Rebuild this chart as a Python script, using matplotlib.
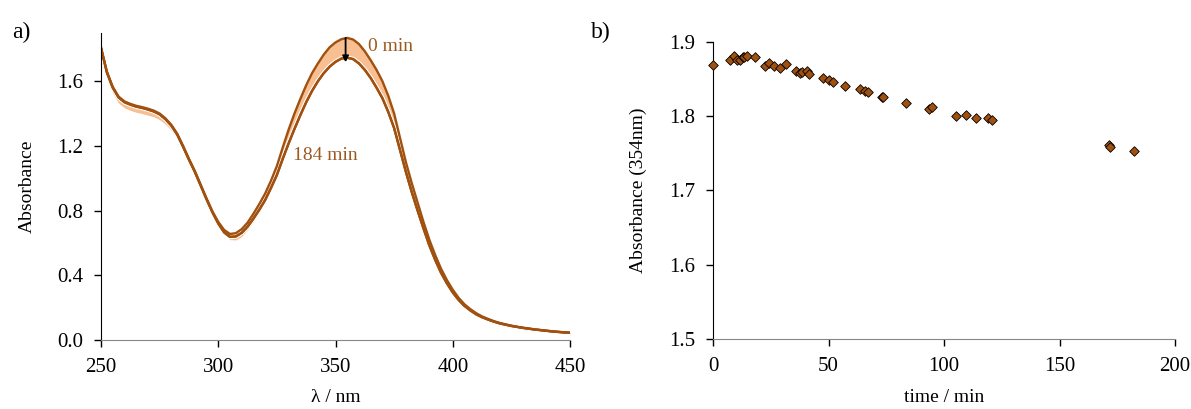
import matplotlib.pyplot as plt
import matplotlib.patheffects as pe

plt.rcParams["font.family"] = ["Liberation Serif", "DejaVu Serif"]
plt.rcParams["font.size"] = 14

# panel a: UV-vis spectra, every 2.5 nm
wavelength = [250, 252.5, 255, 257.5, 260, 262.5, 265, 267.5, 270, 272.5,
              275, 277.5, 280, 282.5, 285, 287.5, 290, 292.5, 295, 297.5,
              300, 302.5, 305, 307.5, 310, 312.5, 315, 317.5, 320, 322.5,
              325, 327.5, 330, 332.5, 335, 337.5, 340, 342.5, 345, 347.5,
              350, 352.5, 355, 357.5, 360, 362.5, 365, 367.5, 370, 372.5,
              375, 377.5, 380, 382.5, 385, 387.5, 390, 392.5, 395, 397.5,
              400, 402.5, 405, 407.5, 410, 412.5, 415, 417.5, 420, 422.5,
              425, 427.5, 430, 432.5, 435, 437.5, 440, 442.5, 445, 447.5, 450]
abs_0min = [1.81, 1.66, 1.565, 1.505, 1.475, 1.46, 1.448, 1.44, 1.43, 1.418,
            1.40, 1.37, 1.33, 1.275, 1.20, 1.12, 1.045, 0.96, 0.875, 0.795,
            0.73, 0.68, 0.655, 0.66, 0.685, 0.725, 0.78, 0.84, 0.905, 0.985,
            1.075, 1.19, 1.30, 1.40, 1.49, 1.575, 1.65, 1.71, 1.765, 1.81,
            1.84, 1.86, 1.868, 1.858, 1.83, 1.785, 1.73, 1.67, 1.60, 1.51,
            1.40, 1.25, 1.10, 0.97, 0.85, 0.73, 0.62, 0.525, 0.44, 0.37,
            0.31, 0.26, 0.22, 0.19, 0.165, 0.145, 0.13, 0.116, 0.105, 0.096,
            0.088, 0.081, 0.075, 0.07, 0.065, 0.061, 0.057, 0.053, 0.050, 0.047, 0.045]
abs_184min = [1.805, 1.655, 1.56, 1.50, 1.47, 1.455, 1.443, 1.435, 1.425, 1.413,
              1.395, 1.365, 1.325, 1.27, 1.195, 1.115, 1.04, 0.955, 0.87, 0.79,
              0.72, 0.665, 0.637, 0.64, 0.662, 0.70, 0.75, 0.805, 0.865, 0.94,
              1.02, 1.12, 1.215, 1.305, 1.39, 1.47, 1.54, 1.60, 1.65, 1.69,
              1.72, 1.74, 1.745, 1.737, 1.71, 1.67, 1.62, 1.56, 1.495, 1.41,
              1.31, 1.175, 1.04, 0.915, 0.80, 0.69, 0.585, 0.495, 0.415, 0.35,
              0.293, 0.247, 0.21, 0.182, 0.158, 0.14, 0.126, 0.113, 0.102, 0.094,
              0.086, 0.08, 0.074, 0.069, 0.064, 0.06, 0.056, 0.052, 0.049, 0.046, 0.044]
# lower edge of the band of intermediate spectra
abs_band_low = [1.78, 1.625, 1.525, 1.465, 1.435, 1.42, 1.408, 1.40, 1.39, 1.38,
                1.362, 1.334, 1.296, 1.245, 1.175, 1.098, 1.022, 0.938, 0.855, 0.775,
                0.708, 0.652, 0.62, 0.618, 0.64, 0.682, 0.735, 0.793, 0.856, 0.933,
                1.018, 1.12, 1.22, 1.313, 1.398, 1.478, 1.55, 1.611, 1.661, 1.702,
                1.733, 1.753, 1.758, 1.75, 1.723, 1.683, 1.633, 1.573, 1.508, 1.423,
                1.321, 1.186, 1.05, 0.923, 0.806, 0.693, 0.586, 0.493, 0.411, 0.343,
                0.285, 0.238, 0.2, 0.171, 0.147, 0.129, 0.115, 0.103, 0.092, 0.084,
                0.076, 0.07, 0.064, 0.059, 0.055, 0.051, 0.047, 0.044, 0.041, 0.038, 0.036]

# panel b: absorbance at 354 nm vs time
time_min = [0, 7.3, 9.2, 10.4, 11.8, 12.8, 13.5, 14.7, 18.3, 22.6, 24.3, 26.2, 29.1, 31.5,
            35.9, 37.7, 38.7, 40.6, 41.6, 47.4, 50.0, 52.0, 57.2, 63.5, 65.7, 67.2, 73.0, 73.7,
            83.7, 93.7, 94.9, 105.3, 109.3, 113.9, 118.9, 120.8, 171.6, 171.8, 182.3]
abs_354 = [1.869, 1.875, 1.881, 1.876, 1.875, 1.880, 1.879, 1.881, 1.879, 1.867, 1.871, 1.868, 1.865, 1.870,
           1.860, 1.858, 1.859, 1.860, 1.857, 1.851, 1.849, 1.846, 1.841, 1.836, 1.834, 1.832, 1.826, 1.825,
           1.817, 1.809, 1.812, 1.800, 1.801, 1.798, 1.798, 1.795, 1.761, 1.759, 1.753]

dark = "#A0500F"
light = "#F7BF92"
label_col = "#9C5A22"
axis_grey = "#868686"

fig = plt.figure(figsize=(11.91, 4.09), dpi=100)
ax1 = fig.add_axes([0.0848, 0.169, 0.3938, 0.751])
ax2 = fig.add_axes([0.5987, 0.171, 0.3879, 0.727])

# --- panel a ---
ax1.fill_between(wavelength, abs_band_low, abs_0min, color=light, lw=0)
ax1.plot(wavelength, abs_184min, color=dark, lw=1.7,
         path_effects=[pe.withStroke(linewidth=3.4, foreground="white"), pe.Normal()])
ax1.plot(wavelength, abs_0min, color=dark, lw=1.7)
ax1.annotate("", xy=(354.3, 1.70), xytext=(354.3, 1.885),
             arrowprops=dict(arrowstyle="-|>", color="black", lw=1.3, mutation_scale=9))
ax1.text(364, 1.815, "0 min", color=label_col, va="center", ha="left")
ax1.text(332, 1.14, "184 min", color=label_col, va="center", ha="left")

ax1.set_xlim(250, 450)
ax1.set_ylim(0, 1.9)
ax1.set_xticks([250, 300, 350, 400, 450])
ax1.set_yticks([0.0, 0.4, 0.8, 1.2, 1.6])
ax1.set_yticklabels(["0.0", "0.4", "0.8", "1.2", "1.6"])
ax1.set_xlabel("λ / nm", labelpad=9)
ax1.set_ylabel("Absorbance", labelpad=15)
ax1.text(-0.19, 1.0, "a)", transform=ax1.transAxes, fontsize=17, va="center", ha="left")

# --- panel b ---
ax2.scatter(time_min, abs_354, marker="D", s=24, facecolor=dark, edgecolor="black",
            linewidths=0.6, zorder=3, clip_on=False)
ax2.set_xlim(0, 200)
ax2.set_ylim(1.5, 1.9)
ax2.set_xticks([0, 50, 100, 150, 200])
ax2.set_yticks([1.5, 1.6, 1.7, 1.8, 1.9])
ax2.set_xlabel("time / min", labelpad=9)
ax2.set_ylabel("Absorbance (354nm)", labelpad=16)
ax2.text(-0.265, 1.03, "b)", transform=ax2.transAxes, fontsize=17, va="center", ha="left")

for ax in (ax1, ax2):
    ax.spines["top"].set_visible(False)
    ax.spines["right"].set_visible(False)
    ax.spines["left"].set_color("black")
    ax.spines["bottom"].set_color(axis_grey)
    ax.tick_params(direction="out", length=5, width=1, pad=8, labelsize=15)

fig.savefig("out.png", dpi=100)
